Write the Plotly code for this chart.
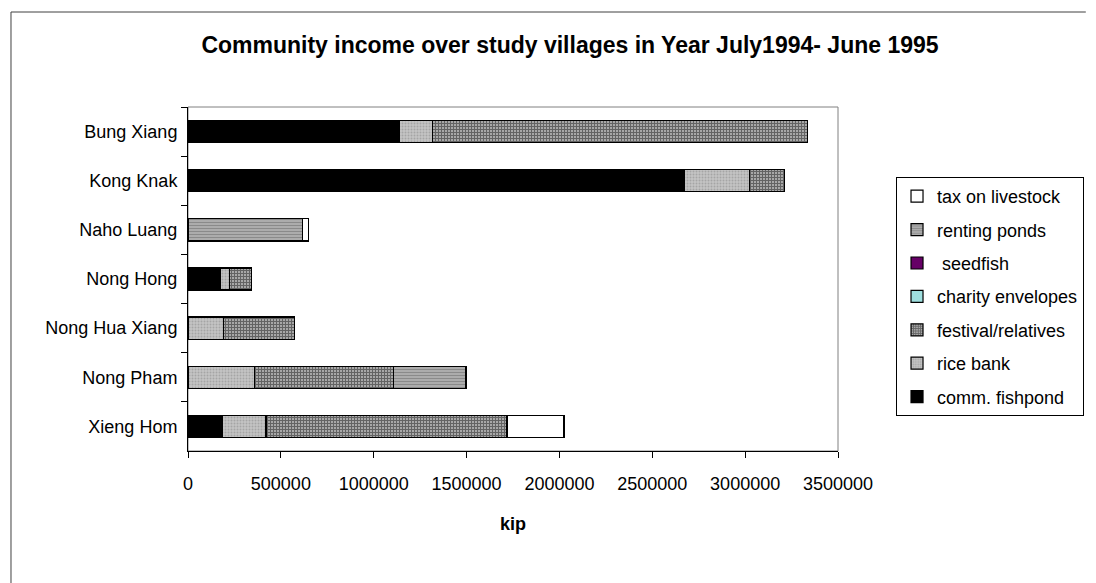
import plotly.graph_objects as go

# Villages, top to bottom
villages = ["Bung Xiang", "Kong Knak", "Naho Luang", "Nong Hong",
            "Nong Hua Xiang", "Nong Pham", "Xieng Hom"]

# Income by source (kip)
comm_fishpond = [1139000, 2672000, 0, 173000, 0, 0, 184000]
rice_bank = [177000, 351000, 0, 52000, 189000, 359000, 236000]
festival_relatives = [2018000, 190000, 0, 116000, 385000, 746000, 1298000]
charity_envelopes = [0, 0, 0, 0, 0, 0, 0]
seedfish = [0, 0, 0, 0, 0, 0, 0]
renting_ponds = [0, 0, 618000, 0, 0, 392000, 0]
tax_on_livestock = [0, 0, 30000, 0, 0, 0, 307000]

x_ticks = [0, 500000, 1000000, 1500000, 2000000, 2500000, 3000000, 3500000]

FONT = "Liberation Sans, Arial, sans-serif"
W, H = 1096, 583
L, R, T, B = 188, 247, 107, 132
pw, ph = W - L - R, H - T - B

# Stacked left to right in this order; the legend lists them the other way round
series = [
    ("comm. fishpond", comm_fishpond, dict(color="#000000")),
    ("rice bank", rice_bank,
     dict(color="#c4c4c4", pattern=dict(shape=".", fgcolor="#858585", size=3, solidity=0.35))),
    ("festival/relatives", festival_relatives,
     dict(color="#a8a8a8", pattern=dict(shape="+", fgcolor="#1e1e1e", size=3, solidity=0.55))),
    ("charity envelopes", charity_envelopes, dict(color="#9fdfdf")),
    ("\u00a0seedfish", seedfish, dict(color="#660066")),
    ("renting ponds", renting_ponds,
     dict(color="#b0b0b0", pattern=dict(shape="-", fgcolor="#646464", size=3, solidity=0.4))),
    ("tax on livestock", tax_on_livestock, dict(color="#ffffff")),
]

fig = go.Figure()
for i, (name, vals, mk) in enumerate(series):
    mk = dict(mk)
    mk["line"] = dict(color="#000000", width=1.2)
    fig.add_trace(go.Bar(
        y=villages, x=vals, name=name, orientation="h",
        marker=mk, legendgroup=name, legendrank=len(series) - i,
    ))

fig.update_layout(
    width=W, height=H,
    barmode="stack", bargap=0.55,
    margin=dict(l=L, r=R, t=T, b=B),
    paper_bgcolor="#ffffff", plot_bgcolor="#ffffff",
    font=dict(family=FONT, size=18, color="#000000"),
    title=dict(
        text="<b>Community income over study villages in Year July1994- June 1995</b>",
        x=570 / W, xanchor="center", xref="container",
        y=1 - 45 / H, yanchor="middle",
        font=dict(family=FONT, size=23, color="#000000"),
    ),
    legend=dict(
        x=(908 - L) / pw, xanchor="left",
        y=(H - B - 177) / ph, yanchor="top",
        traceorder="grouped",
        tracegroupgap=7,
        bordercolor="#000000", borderwidth=1,
        bgcolor="#ffffff",
        font=dict(family=FONT, size=18),
        itemwidth=30,
    ),
    showlegend=True,
)

fig.update_xaxes(
    range=[0, 3500000], tickvals=x_ticks, tickformat="d",
    showgrid=False, zeroline=False,
    showline=True, linecolor="#000000", linewidth=1,
    ticks="outside", ticklen=6, tickcolor="#000000",
    ticklabelstandoff=10,
    title=dict(text="<b>kip</b>", font=dict(family=FONT, size=18), standoff=24),
)
fig.update_yaxes(
    autorange="reversed", type="category",
    showgrid=False, zeroline=False,
    showline=True, linecolor="#000000", linewidth=1,
    ticks="outside", ticklen=6, tickcolor="#000000", tickson="boundaries",
    ticklabelstandoff=6,
)

# Plot area frame (grey) and outer chart border
fig.add_shape(type="rect", xref="paper", yref="paper", x0=0, x1=1, y0=0, y1=1,
              line=dict(color="#808080", width=1), layer="below")
fig.add_shape(type="path", xref="paper", yref="paper",
              path="M {x0},{yb} L {x0},{yt} L {x1},{yt}".format(
                  x0=(8 - L) / pw, x1=(W + 5 - L) / pw,
                  yt=(H - B - 12) / ph, yb=(H - B - (H + 5)) / ph),
              line=dict(color="#404040", width=1))

fig.write_html("out.html")
